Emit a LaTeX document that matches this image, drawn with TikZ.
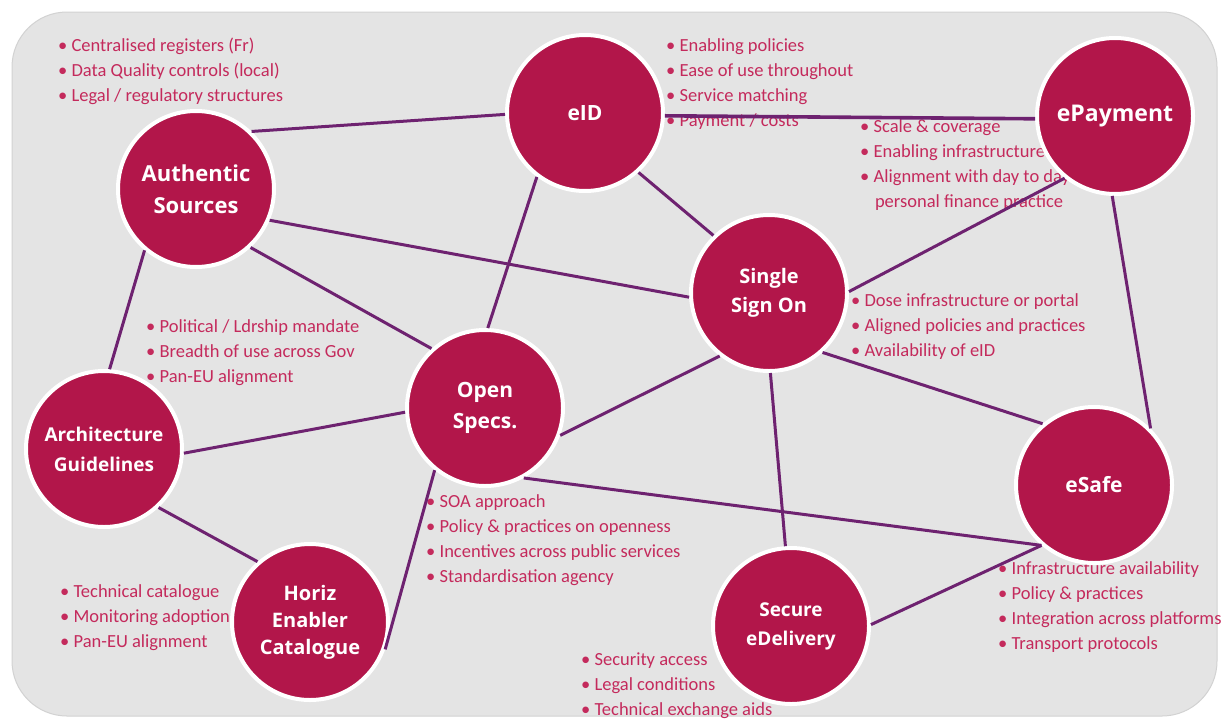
\documentclass[tikz,border=0pt]{standalone}
\usepackage{fontspec}
\setmainfont{Carlito}
\newfontfamily\labelfont{Open Sans}
\definecolor{bgGrey}{RGB}{228,228,228}
\definecolor{hubRed}{RGB}{178,22,74}
\definecolor{bulText}{RGB}{196,42,92}
\definecolor{edgePurple}{RGB}{110,34,112}
\tikzset{
  hub/.style={circle, fill=hubRed, draw=white, line width=4pt, minimum size=156pt, inner sep=0pt,
    text=white, align=center, font=\labelfont\bfseries\fontsize{21}{31}\selectfont},
  bul/.style={anchor=north west, inner sep=0pt, align=left, text=bulText,
    font=\fontsize{18.5}{25}\selectfont},
  link/.style={draw=edgePurple, line width=3pt},
}
\begin{document}
\begin{tikzpicture}[x=1pt,y=-1pt]
\useasboundingbox (0,0) rectangle (1225,726);
\fill[white] (0,0) rectangle (1225,726);
\draw[fill=bgGrey, draw=gray!35, line width=1pt, rounded corners=55pt] (12,12) rectangle (1217,716);

% bullet texts
\node[bul] (tAuth) at (58,38) {• Centralised registers (Fr)\\• Data Quality controls (local)\\• Legal / regulatory structures};
\node[bul] (tEid) at (666,38) {• Enabling policies\\• Ease of use throughout\\• Service matching\\• Payment / costs};
\node[bul] (tEpay) at (860,119) {• Scale \& coverage\\• Enabling infrastructure\\• Alignment with day to day\\\hspace*{0.8em}personal finance practice};
\node[bul] (tArch) at (146,319) {• Political / Ldrship mandate\\• Breadth of use across Gov\\• Pan-EU alignment};
\node[bul] (tSso) at (851,293) {• Dose infrastructure or portal\\• Aligned policies and practices\\• Availability of eID};
\node[bul] (tOpen) at (426,494) {• SOA approach\\• Policy \&  practices on openness\\• Incentives across public services\\• Standardisation agency};
\node[bul] (tHoriz) at (60,584) {• Technical catalogue\\• Monitoring adoption\\• Pan-EU alignment};
\node[bul] (tSafe) at (998,561) {• Infrastructure availability\\• Policy \&  practices\\• Integration across platforms\\• Transport protocols};
\node[bul] (tSec) at (581,653) {• Security access\\• Legal conditions\\• Technical exchange aids};

% hubs
\node[hub, font=\labelfont\bfseries\fontsize{22}{32}\selectfont] (auth) at (196,189) {Authentic\\Sources};
\node[hub] (eid) at (585,113) {eID};
\node[hub, font=\labelfont\bfseries\fontsize{23}{32}\selectfont] (epay) at (1115,116) {ePayment};
\node[hub, font=\labelfont\bfseries\fontsize{20}{29}\selectfont] (sso) at (769,293) {Single\\Sign On};
\node[hub, font=\labelfont\bfseries\fontsize{19}{30}\selectfont] (arch) at (104,449) {Architecture\\Guidelines};
\node[hub] (open) at (485,408) {Open\\Specs.};
\node[hub] (esafe) at (1094,485) {eSafe};
\node[hub, font=\labelfont\bfseries\fontsize{20}{27}\selectfont] (horiz) at (310,622) {Horiz\\Enabler\\Catalogue};
\node[hub, font=\labelfont\bfseries\fontsize{19}{29}\selectfont] (secure) at (791,626) {Secure\\eDelivery};

% connectors
\draw[link] (auth.46) -- (eid.181);
\draw[link, line width=3.6pt] (eid.358) -- (epay.182);
\draw[link] (auth.337) -- (sso.183);
\draw[link] (auth.313) -- (open.132);
\draw[link] (auth.230) -- (arch.86);
\draw[link] (eid.233) -- (open.88);
\draw[link] (eid.312) -- (sso.134);
\draw[link] (epay.231) -- (sso.1);
\draw[link] (epay.268) -- (esafe.45);
\draw[link] (sso.312) -- (esafe.130);
\draw[link] (sso.271) -- (secure.94);
\draw[link] (sso.232) -- (open.340);
\draw[link] (open.183) -- (arch.357);
\draw[link] (open.299) -- (esafe.229);
\draw[link] (secure.1) -- (esafe.229);
\draw[link] (arch.313) -- (horiz.131);
\draw[link] (open.231) -- (horiz.340);
\end{tikzpicture}
\end{document}
